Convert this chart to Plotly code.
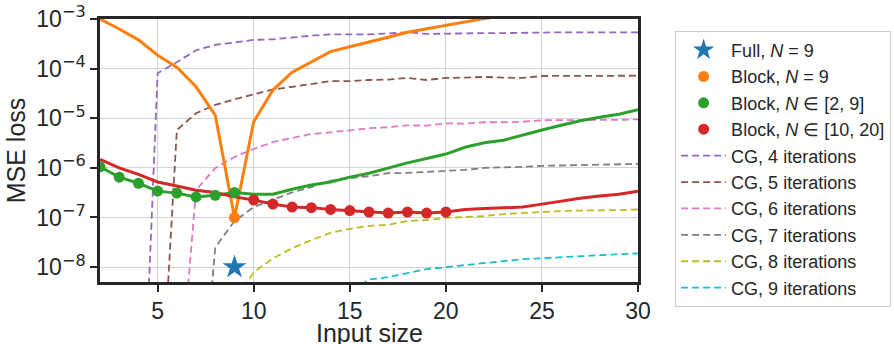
import plotly.graph_objects as go

# ---------------- data ----------------
input_size = list(range(2, 31))

block_n9 = [1.0e-3, 6.3e-4, 3.8e-4, 1.86e-4, 1.07e-4, 4.3e-5, 1.15e-5, 1.0e-7, 8.5e-6, 3.7e-5,
            8.5e-5, 1.38e-4, 2.2e-4, 2.75e-4, 3.4e-4, 4.3e-4, 5.4e-4, 6.3e-4, 7.6e-4, 8.7e-4,
            1.02e-3, 1.15e-3, 1.26e-3, 1.38e-3, 1.51e-3, 1.62e-3, 1.74e-3, 1.86e-3, 2.0e-3]

block_2_9 = [1.05e-6, 6.5e-7, 4.9e-7, 3.4e-7, 3.1e-7, 2.6e-7, 2.8e-7, 3.2e-7, 2.95e-7, 2.95e-7,
             3.7e-7, 4.5e-7, 5.2e-7, 6.5e-7, 7.8e-7, 1.0e-6, 1.26e-6, 1.55e-6, 1.9e-6, 2.6e-6,
             3.2e-6, 3.6e-6, 4.6e-6, 5.8e-6, 7.2e-6, 8.9e-6, 1.05e-5, 1.2e-5, 1.48e-5]

block_10_20 = [1.48e-6, 1.0e-6, 7.4e-7, 5.2e-7, 4.3e-7, 3.55e-7, 3.2e-7, 2.6e-7, 2.25e-7, 1.86e-7,
               1.62e-7, 1.58e-7, 1.45e-7, 1.38e-7, 1.29e-7, 1.23e-7, 1.29e-7, 1.23e-7, 1.29e-7, 1.45e-7,
               1.51e-7, 1.58e-7, 1.62e-7, 1.86e-7, 2.15e-7, 2.45e-7, 2.7e-7, 2.95e-7, 3.4e-7]

full_x = [9]
full_y = [1.0e-8]

block_n9_train_x = [9]
block_2_9_train_x = list(range(2, 10))
block_10_20_train_x = list(range(10, 21))

cg4 = [2e-14, 3e-14, 3e-14,
       8.1e-5, 1.35e-4, 2.35e-4, 3.0e-4, 3.4e-4, 3.8e-4, 3.9e-4, 4.3e-4, 4.6e-4, 4.9e-4,
       4.9e-4, 4.9e-4, 5.1e-4, 5.4e-4, 5.0e-4, 5.1e-4, 5.2e-4, 5.2e-4, 5.2e-4, 5.3e-4,
       5.4e-4, 5.4e-4, 5.4e-4, 5.4e-4, 5.4e-4, 5.4e-4]
cg5 = [1e-13, 1e-13, 1e-13, 1e-12,
       5.8e-6, 1.26e-5, 1.86e-5, 2.4e-5, 3.0e-5, 3.8e-5, 4.3e-5, 4.9e-5, 5.6e-5, 5.6e-5,
       5.9e-5, 6.0e-5, 6.5e-5, 5.9e-5, 6.5e-5, 6.6e-5, 6.8e-5, 6.6e-5, 6.5e-5, 7.1e-5,
       7.1e-5, 7.1e-5, 7.1e-5, 7.2e-5, 7.2e-5]
cg6 = [1e-12, 1e-12, 1e-12, 1e-12, 8e-12,
       3.55e-7, 1.0e-6, 1.66e-6, 2.4e-6, 3.3e-6, 4.0e-6, 4.8e-6, 5.2e-6, 5.8e-6, 6.3e-6,
       6.6e-6, 7.2e-6, 7.1e-6, 7.9e-6, 7.8e-6, 8.3e-6, 8.3e-6, 8.5e-6, 9.1e-6, 9.1e-6,
       9.1e-6, 9.3e-6, 9.3e-6, 9.5e-6]
cg7 = [1e-12, 1e-12, 1e-12, 1e-12, 1e-12, 1e-12,
       2.5e-8, 8.5e-8, 1.62e-7, 2.25e-7, 3.2e-7, 4.1e-7, 5.5e-7, 6.2e-7, 6.8e-7, 7.8e-7,
       7.9e-7, 8.3e-7, 8.7e-7, 9.1e-7, 1.0e-6, 1.02e-6, 1.05e-6, 1.1e-6, 1.12e-6, 1.12e-6,
       1.17e-6, 1.17e-6, 1.2e-6]
cg8 = [1e-12, 1e-12, 1e-12, 1e-12, 1e-12, 1e-12, 1e-12, 2e-9,
       7.9e-9, 1.5e-8, 2.4e-8, 3.5e-8, 4.9e-8, 5.9e-8, 6.8e-8, 7.1e-8, 8.5e-8, 8.9e-8,
       9.8e-8, 1.02e-7, 1.07e-7, 1.17e-7, 1.23e-7, 1.29e-7, 1.35e-7, 1.38e-7, 1.38e-7,
       1.41e-7, 1.45e-7]
cg9 = [1e-12, 1e-12, 1e-12, 1e-12, 1e-12, 1e-12, 1e-12, 1e-12,
       1.26e-10, 4.0e-10, 7.9e-10, 1.4e-9, 2.2e-9, 3.2e-9, 5.6e-9, 6.3e-9, 7.6e-9, 9.1e-9,
       1.0e-8, 1.1e-8, 1.2e-8, 1.29e-8, 1.45e-8, 1.51e-8, 1.58e-8, 1.66e-8, 1.74e-8,
       1.82e-8, 1.9e-8]

cg_series = [("CG, 4 iterations", cg4, "#9467bd"),
             ("CG, 5 iterations", cg5, "#8c564b"),
             ("CG, 6 iterations", cg6, "#e377c2"),
             ("CG, 7 iterations", cg7, "#7f7f7f"),
             ("CG, 8 iterations", cg8, "#bcbd22"),
             ("CG, 9 iterations", cg9, "#17becf")]

y_tickvals = [1e-8, 1e-7, 1e-6, 1e-5, 1e-4, 1e-3]
y_exponents = ["−8", "−7", "−6", "−5", "−4", "−3"]
x_tickvals = [5, 10, 15, 20, 25, 30]
x_title = "Input size"
y_title = "MSE loss"

# ---------------- figure ----------------
FONT = "Liberation Sans, Arial, Helvetica, sans-serif"
INK = "#262626"
y_ticktext = ["10<sup><span style='font-family:DejaVu Sans'>%s</span></sup>" % e for e in y_exponents]

fig = go.Figure()

for i, (name, vals, col) in enumerate(cg_series):
    fig.add_trace(go.Scatter(x=input_size, y=vals, mode="lines", name=name,
                             line=dict(color=col, width=1.8, dash="7px,4px"),
                             legendrank=5 + i))

fig.add_trace(go.Scatter(x=input_size, y=block_n9, mode="lines", showlegend=False,
                         line=dict(color="#ff7f0e", width=3)))
fig.add_trace(go.Scatter(x=input_size, y=block_2_9, mode="lines", showlegend=False,
                         line=dict(color="#2ca02c", width=3)))
fig.add_trace(go.Scatter(x=input_size, y=block_10_20, mode="lines", showlegend=False,
                         line=dict(color="#d62728", width=3)))

def pick(xs, ys, subset):
    return [ys[xs.index(v)] for v in subset]

fig.add_trace(go.Scatter(x=block_n9_train_x, y=pick(input_size, block_n9, block_n9_train_x),
                         mode="markers", name="Block, <i>N</i> = 9",
                         marker=dict(color="#ff7f0e", size=11, symbol="circle"),
                         legendrank=2))
fig.add_trace(go.Scatter(x=block_2_9_train_x, y=pick(input_size, block_2_9, block_2_9_train_x),
                         mode="markers", name="Block, <i>N</i> ∈ [2, 9]",
                         marker=dict(color="#2ca02c", size=11, symbol="circle"),
                         legendrank=3))
fig.add_trace(go.Scatter(x=block_10_20_train_x, y=pick(input_size, block_10_20, block_10_20_train_x),
                         mode="markers", name="Block, <i>N</i> ∈ [10, 20]",
                         marker=dict(color="#d62728", size=11, symbol="circle"),
                         legendrank=4))
fig.add_trace(go.Scatter(x=full_x, y=full_y, mode="markers", name="Full, <i>N</i> = 9",
                         marker=dict(color="#1f77b4", size=18, symbol="star"),
                         legendrank=1))

axis_common = dict(showline=True, linecolor=INK, linewidth=2.5, mirror=True,
                   ticks="outside", ticklen=7, tickwidth=1.8, tickcolor=INK,
                   showgrid=True, gridcolor="#d4d4d4", gridwidth=1.3,
                   zeroline=False, automargin=False,
                   tickfont=dict(family=FONT, size=23, color=INK))

fig.update_xaxes(range=[2, 30], tickvals=x_tickvals, **axis_common)
fig.update_yaxes(type="log", range=[-8.3, -3], tickvals=y_tickvals, ticktext=y_ticktext,
                 title=dict(text=y_title, font=dict(family=FONT, size=25, color=INK),
                            standoff=4),
                 **axis_common)

fig.add_annotation(text=x_title, xref="paper", yref="paper", x=0.5, y=-0.195,
                   xanchor="center", yanchor="middle", showarrow=False,
                   font=dict(family=FONT, size=25, color=INK))

fig.update_layout(
    width=894, height=344,
    margin=dict(l=100, r=256, t=19, b=62, autoexpand=False),
    paper_bgcolor="white", plot_bgcolor="white",
    font=dict(family=FONT, color=INK),
    legend=dict(x=1.069, y=0.955, xanchor="left", yanchor="top",
                bordercolor="#cccccc", borderwidth=1, bgcolor="white",
                font=dict(family=FONT, size=18, color=INK),
                tracegroupgap=0, itemwidth=45, maxheight=400),
)

fig.write_html("out.html", config={"displayModeBar": False},
               post_script="document.body.style.margin='0';document.body.style.overflow='hidden';")
